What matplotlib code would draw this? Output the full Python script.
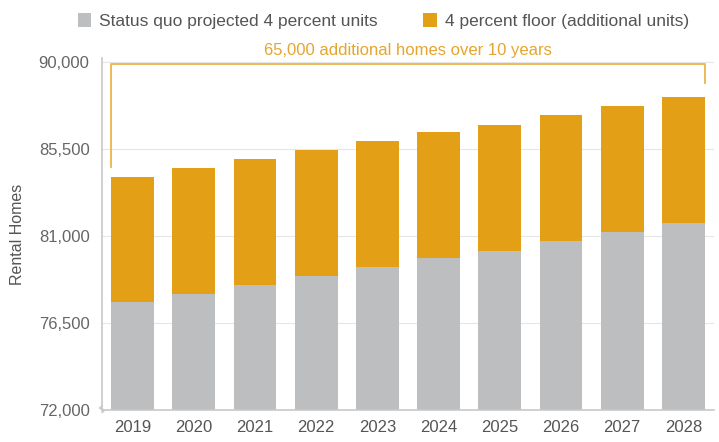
import matplotlib.pyplot as plt
import numpy as np

years = ["2019", "2020", "2021", "2022", "2023", "2024", "2025", "2026", "2027", "2028"]
status_quo = [77570, 78000, 78470, 78930, 79400, 79860, 80240, 80740, 81190, 81660]
floor_extra = [6500, 6500, 6500, 6500, 6500, 6500, 6500, 6500, 6500, 6500]
y_ticks = [72000, 76500, 81000, 85500, 90000]
note = "65,000 additional homes over 10 years"

GRAY = "#BCBEC0"
ORANGE = "#E3A017"
TEXT = "#555555"

plt.rcParams['font.family'] = ['Liberation Sans', 'DejaVu Sans']

fig = plt.figure(figsize=(7.19, 4.42), dpi=100)
ax = fig.add_axes([0.142, 0.072, 0.851, 0.797])

x = np.arange(len(years))
tops = np.array(status_quo) + np.array(floor_extra)
ax.bar(x, status_quo, width=0.7, color=GRAY, label="Status quo projected 4 percent units", zorder=2)
ax.bar(x, floor_extra, width=0.7, bottom=status_quo, color=ORANGE,
       label="4 percent floor (additional units)", zorder=2)

ax.set_xlim(-0.5, len(years) - 0.5)
ax.set_ylim(72000, 90200)
ax.set_yticks(y_ticks)
ax.set_yticklabels([f"{v:,}" for v in y_ticks])
ax.set_xticks(x)
ax.set_xticklabels(years)
ax.tick_params(axis='both', length=0, labelsize=12, colors=TEXT)
ax.tick_params(axis='y', pad=9, labelcolor="#666666")
ax.tick_params(axis='x', pad=7)
ax.set_ylabel("Rental Homes", fontsize=11.5, color=TEXT, labelpad=10)

ax.grid(axis='y', color="#E6E6E6", linewidth=0.8, zorder=0)
for s in ["top", "right"]:
    ax.spines[s].set_visible(False)
ax.spines["left"].set_color("#C8C8C8")
ax.spines["bottom"].set_color("#C8C8C8")
ax.spines["left"].set_linewidth(1.2)
ax.spines["bottom"].set_linewidth(1.2)

# axis break squiggle near the base of the y axis
ax.plot([0, -0.004, 0.004, 0], [0.012, 0.006, 0.0, -0.006], transform=ax.transAxes,
        color="#C8C8C8", lw=1.2, clip_on=False)

# bracket over the bars
left = x[0] - 0.35
right = x[-1] + 0.35
top = 89900
ax.plot([left, left, right, right], [tops[0] + 470, top, top, tops[-1] + 750],
        color="#EBB54A", lw=1.3, clip_on=False, zorder=3)
ax.text((left + right) / 2, top + 280, note, ha="center", va="bottom",
        fontsize=12, color="#E6A52C")

fig.legend(loc="upper center", bbox_to_anchor=(0.533, 1.005), ncol=2, frameon=False,
           fontsize=12.5, handlelength=0.8, handleheight=0.8, handletextpad=0.45,
           columnspacing=2.6, labelcolor=TEXT)

fig.savefig("out.png", dpi=100)
